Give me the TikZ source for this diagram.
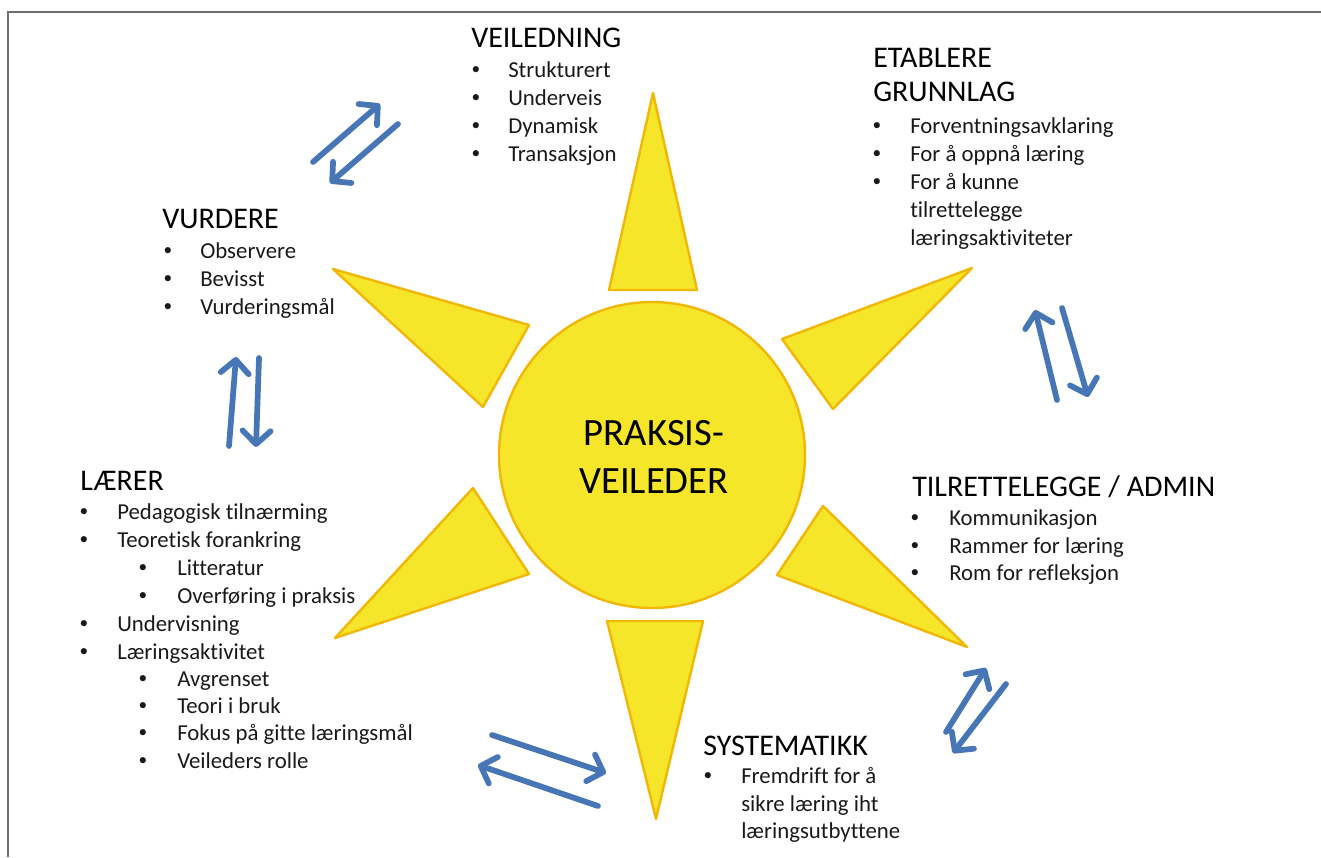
\documentclass[tikz,border=0pt]{standalone}
\usepackage{fontspec}
\setmainfont[Ligatures=NoCommon]{Carlito}
\usetikzlibrary{arrows.meta}
\definecolor{sunfill}{RGB}{246,230,42}
\definecolor{sunedge}{RGB}{242,183,5}
\definecolor{arrowblue}{RGB}{70,118,182}
\definecolor{txt}{RGB}{25,25,25}
\definecolor{framegray}{RGB}{110,110,110}
\begin{document}
\begin{tikzpicture}[x=0.75pt,y=-0.75pt,
  ray/.style={fill=sunfill,draw=sunedge,line width=1.8pt,line join=round},
  head/.style={anchor=base west,font=\fontsize{22.5}{25.5}\selectfont,text=black,inner sep=0pt},
  item/.style={anchor=base west,font=\fontsize{17.1}{21}\selectfont,text=txt,inner sep=0pt},
  bul/.style={anchor=base,font=\fontsize{13}{16}\selectfont,text=txt,inner sep=0pt,yshift=1.6pt},
  flow/.style={draw=arrowblue,line width=4.3pt,line cap=round,-{Straight Barb[length=10pt,width=21pt,round]}}
]
\useasboundingbox (0,0) rectangle (1321,857);
\draw[framegray,line width=1.1pt] (8,857) -- (8,12) -- (1321,12);

% sun rays
\filldraw[ray] (653,93) -- (697,290) -- (609,290) -- cycle;
\filldraw[ray] (972,268) -- (833,409) -- (782,339) -- cycle;
\filldraw[ray] (967,647) -- (777,575) -- (823,506) -- cycle;
\filldraw[ray] (656,819) -- (607,621) -- (703,621) -- cycle;
\filldraw[ray] (335,638) -- (473,488) -- (529,574) -- cycle;
\filldraw[ray] (333,269) -- (529,325) -- (483,407) -- cycle;

% sun
\node[circle,fill=sunfill,draw=sunedge,line width=1.8pt,minimum size=229.5pt,inner sep=0pt] (sun) at (652,455) {};
\node[align=center,font=\fontsize{29}{36}\selectfont,text=black,inner sep=0pt,anchor=base] (sunA) at (654,445) {PRAKSIS-};
\node[align=center,font=\fontsize{29}{36}\selectfont,text=black,inner sep=0pt,anchor=base] (sunB) at (654,493) {VEILEDER};

% VEILEDNING
\node[head] (veil) at (471,47) {VEILEDNING};
\node[bul] (veilb1) at (476,77) {•}; \node[item] (veil1) at (508,77) {Strukturert};
\node[bul] (veilb2) at (476,105) {•}; \node[item] (veil2) at (508,105) {Underveis};
\node[bul] (veilb3) at (476,133) {•}; \node[item] (veil3) at (508,133) {Dynamisk};
\node[bul] (veilb4) at (476,161) {•}; \node[item] (veil4) at (508,161) {Transaksjon};

% ETABLERE GRUNNLAG
\node[head] (etab) at (873,67) {ETABLERE};
\node[head] (grunn) at (873,101) {GRUNNLAG};
\node[bul] (etabb1) at (877,133) {•}; \node[item] (etab1) at (910,133) {Forventningsavklaring};
\node[bul] (etabb2) at (877,161) {•}; \node[item] (etab2) at (910,161) {For å oppnå læring};
\node[bul] (etabb3) at (877,189) {•}; \node[item] (etab3) at (910,189) {For å kunne};
\node[item] (etab4) at (910,217) {tilrettelegge};
\node[item] (etab5) at (910,245) {læringsaktiviteter};

% VURDERE
\node[head] (vurd) at (162,228) {VURDERE};
\node[bul] (vurdb1) at (168,258) {•}; \node[item] (vurd1) at (200,258) {Observere};
\node[bul] (vurdb2) at (168,286) {•}; \node[item] (vurd2) at (200,286) {Bevisst};
\node[bul] (vurdb3) at (168,314) {•}; \node[item] (vurd3) at (200,314) {Vurderingsmål};

% LÆRER
\node[head] (laer) at (80,490) {LÆRER};
\node[bul] (laerb1) at (84,519) {•}; \node[item] (laer1) at (117,519) {Pedagogisk tilnærming};
\node[bul] (laerb2) at (84,547) {•}; \node[item] (laer2) at (117,547) {Teoretisk forankring};
\node[bul] (laerb3) at (143,575) {•}; \node[item] (laer3) at (177,575) {Litteratur};
\node[bul] (laerb4) at (143,603) {•}; \node[item] (laer4) at (177,603) {Overføring i praksis};
\node[bul] (laerb5) at (84,631) {•}; \node[item] (laer5) at (117,631) {Undervisning};
\node[bul] (laerb6) at (84,659) {•}; \node[item] (laer6) at (117,659) {Læringsaktivitet};
\node[bul] (laerb7) at (143,686) {•}; \node[item] (laer7) at (177,686) {Avgrenset};
\node[bul] (laerb8) at (143,713) {•}; \node[item] (laer8) at (177,713) {Teori i bruk};
\node[bul] (laerb9) at (143,740) {•}; \node[item] (laer9) at (177,740) {Fokus på gitte læringsmål};
\node[bul] (laerb10) at (143,768) {•}; \node[item] (laer10) at (177,768) {Veileders rolle};

% TILRETTELEGGE / ADMIN
\node[head] (tilr) at (912,496) {TILRETTELEGGE / ADMIN};
\node[bul] (tilrb1) at (915,525) {•}; \node[item] (tilr1) at (949,525) {Kommunikasjon};
\node[bul] (tilrb2) at (915,553) {•}; \node[item] (tilr2) at (949,553) {Rammer for læring};
\node[bul] (tilrb3) at (915,580) {•}; \node[item] (tilr3) at (949,580) {Rom for refleksjon};

% SYSTEMATIKK
\node[head] (syst) at (703,755) {SYSTEMATIKK};
\node[bul] (systb1) at (708,783) {•}; \node[item] (syst1) at (741,783) {Fremdrift for å};
\node[item] (syst2) at (741,811) {sikre læring iht};
\node[item] (syst3) at (741,838) {læringsutbyttene};

% arrow end points
\coordinate (tlA0) at (313,162); \coordinate (tlA1) at (380,104);
\coordinate (tlB0) at (398,124); \coordinate (tlB1) at (330,183);
\coordinate (lA0) at (229,446); \coordinate (lA1) at (236,357);
\coordinate (lB0) at (259,358); \coordinate (lB1) at (256,447);
\coordinate (rA0) at (1057,400); \coordinate (rA1) at (1035,310);
\coordinate (rB0) at (1062,308); \coordinate (rB1) at (1088,397);
\coordinate (brA0) at (946,732); \coordinate (brA1) at (986,668);
\coordinate (brB0) at (1006,684); \coordinate (brB1) at (953,753);
\coordinate (bA0) at (492,735); \coordinate (bA1) at (606,773);
\coordinate (bB0) at (598,806); \coordinate (bB1) at (478,765);

\draw[flow] (tlA0) -- (tlA1);
\draw[flow] (tlB0) -- (tlB1);
\draw[flow] (lA0) -- (lA1);
\draw[flow] (lB0) -- (lB1);
\draw[flow] (rA0) -- (rA1);
\draw[flow] (rB0) -- (rB1);
\draw[flow] (brA0) -- (brA1);
\draw[flow] (brB0) -- (brB1);
\draw[flow] (bA0) -- (bA1);
\draw[flow] (bB0) -- (bB1);
\end{tikzpicture}
\end{document}
